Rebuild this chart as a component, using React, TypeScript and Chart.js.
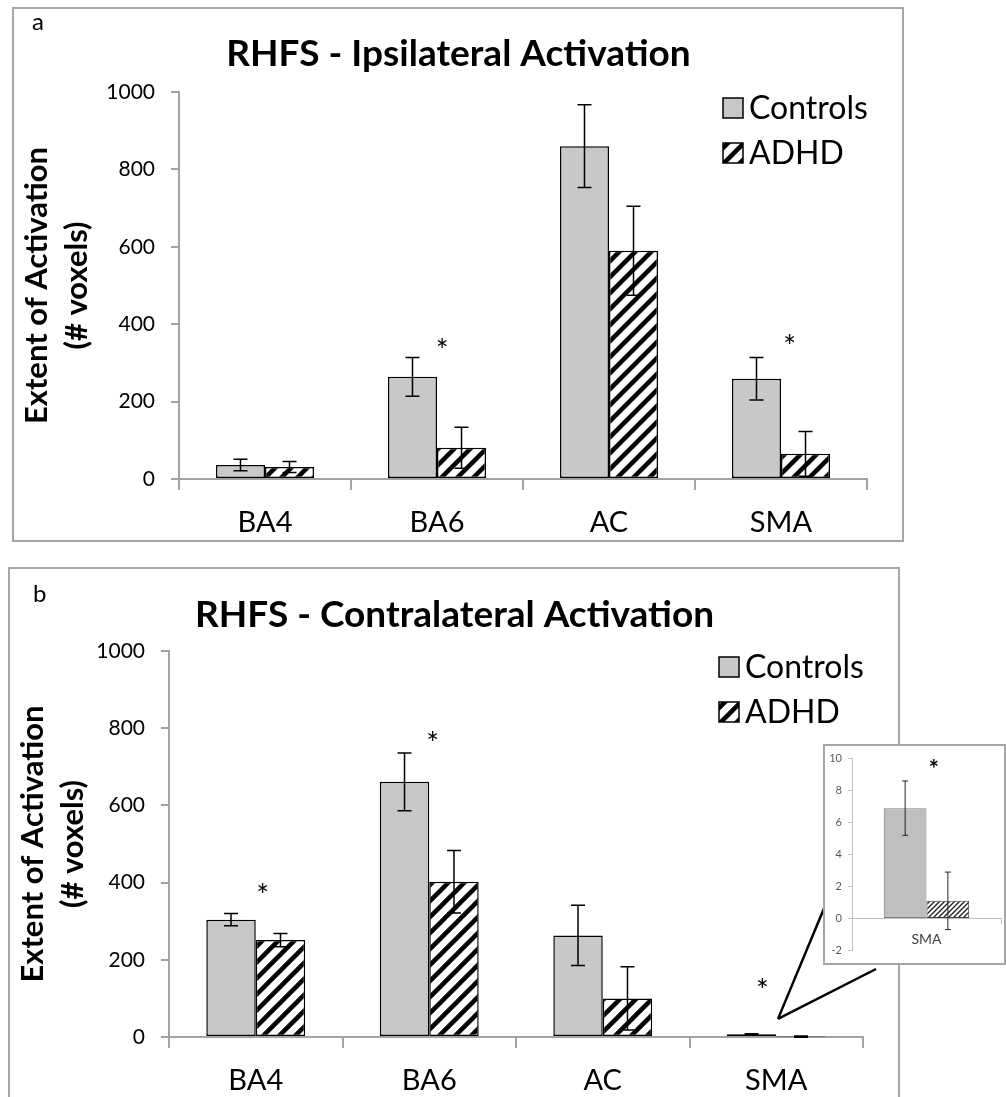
import React, { useEffect, useRef } from "react";
import { Chart, registerables } from "chart.js";

Chart.register(...registerables);

// ---------------- DATA ----------------
const categories = ["BA4", "BA6", "AC", "SMA"];
const seriesNames = ["Controls", "ADHD"];

const ipsiControls = [36, 264, 860, 259];
const ipsiControlsErr = [15, 50, 107, 55];
const ipsiAdhd = [31, 81, 590, 65];
const ipsiAdhdErr = [14, 53, 115, 58];

const contraControls = [304, 661, 263, 6.9];
const contraControlsErr = [16, 75, 78, 1.7];
const contraAdhd = [251, 402, 100, 1.1];
const contraAdhdErr = [17, 81, 82, 1.8];

const insetCategories = ["SMA"];
const insetControls = [6.9];
const insetControlsErr = [1.7];
const insetAdhd = [1.1];
const insetAdhdErr = [1.8];

const mainAxisMin = 0;
const mainAxisMax = 1000;
const mainAxisStep = 200;
const insetAxisMin = -2;
const insetAxisMax = 10;
const insetAxisStep = 2;

// significance markers: category index, small shift (category units), value
const ipsiStarIndex = [1, 3];
const ipsiStarShift = [0.03, 0.05];
const ipsiStarValue = [330, 341];
const contraStarIndex = [0, 1, 3];
const contraStarShift = [0.04, 0.02, -0.08];
const contraStarValue = [365, 759, 119];
const insetStarIndex = [0];
const insetStarShift = [0.05];
const insetStarValue = [9.3];

const calloutValue = 47;

const ipsiTitle = "RHFS - Ipsilateral Activation";
const contraTitle = "RHFS - Contralateral Activation";
const yTitle = ["Extent of Activation", "(# voxels)"];

// ---------------- STYLE ----------------
const FONT = "Lato, 'DejaVu Sans', sans-serif";
const GRAY = "#c8c8c8";
const AXIS = "#a3a3a3";
const PANEL_BORDER = "2px solid #a6a6a6";

function makeStripe(size: number, lw: number, color: string) {
  const c = document.createElement("canvas");
  c.width = size;
  c.height = size;
  const g = c.getContext("2d")!;
  g.fillStyle = "#ffffff";
  g.fillRect(0, 0, size, size);
  g.strokeStyle = color;
  g.lineWidth = lw;
  g.lineCap = "square";
  const lines = [
    [0, size, size, 0],
    [-size / 2, size / 2, size / 2, -size / 2],
    [size / 2, size * 1.5, size * 1.5, size / 2],
  ];
  for (const [a, b, cc, d] of lines) {
    g.beginPath();
    g.moveTo(a, b);
    g.lineTo(cc, d);
    g.stroke();
  }
  return g.createPattern(c, "repeat")!;
}

function errorBars(errs: number[][], capW: number, lw: number, color: string) {
  return {
    id: "errbars",
    afterDatasetsDraw(chart: any) {
      const ctx = chart.ctx;
      const ys = chart.scales.y;
      ctx.save();
      ctx.strokeStyle = color;
      ctx.lineWidth = lw;
      chart.data.datasets.forEach((ds: any, d: number) => {
        const meta = chart.getDatasetMeta(d);
        meta.data.forEach((el: any, i: number) => {
          const v = ds.data[i];
          const e = errs[d][i];
          const x = el.x;
          const yt = ys.getPixelForValue(v + e);
          const yb = ys.getPixelForValue(v - e);
          ctx.beginPath();
          ctx.moveTo(x, yt);
          ctx.lineTo(x, yb);
          ctx.moveTo(x - capW / 2, yt);
          ctx.lineTo(x + capW / 2, yt);
          ctx.moveTo(x - capW / 2, yb);
          ctx.lineTo(x + capW / 2, yb);
          ctx.stroke();
        });
      });
      ctx.restore();
    },
  };
}

function stars(idx: number[], shift: number[], vals: number[], font: string) {
  return {
    id: "stars",
    afterDatasetsDraw(chart: any) {
      const ctx = chart.ctx;
      const xs = chart.scales.x;
      const ys = chart.scales.y;
      ctx.save();
      ctx.fillStyle = "#000";
      ctx.font = font;
      ctx.textAlign = "center";
      ctx.textBaseline = "middle";
      idx.forEach((ix, k) => {
        ctx.fillText("*", xs.getPixelForValue(ix + shift[k]), ys.getPixelForValue(vals[k]));
      });
      ctx.restore();
    },
  };
}

function decor(cfg: any) {
  return {
    id: "decor",
    afterDraw(chart: any) {
      const ctx = chart.ctx;
      const area = chart.chartArea;
      ctx.save();
      // title
      ctx.fillStyle = "#000";
      ctx.font = `bold 37px ${FONT}`;
      ctx.textAlign = "center";
      ctx.textBaseline = "middle";
      ctx.fillText(cfg.title, chart.width / 2 + 1, cfg.titleY);
      // panel letter
      ctx.font = `24px ${FONT}`;
      ctx.textAlign = "left";
      ctx.textBaseline = "alphabetic";
      ctx.fillText(cfg.letter, cfg.letterX, cfg.letterY);
      // legend
      const bx = area.right - 144;
      const fills = [GRAY, cfg.pattern];
      seriesNames.forEach((name, k) => {
        const cy = area.top + 16 + k * 45;
        ctx.fillStyle = fills[k];
        ctx.fillRect(bx, cy - 10, 20, 20);
        ctx.strokeStyle = "#000";
        ctx.lineWidth = 1.5;
        ctx.strokeRect(bx, cy - 10, 20, 20);
        ctx.fillStyle = "#000";
        ctx.font = `32px ${FONT}`;
        ctx.textBaseline = "middle";
        ctx.fillText(name, bx + 26, cy + 1);
      });
      // callout lines
      if (cfg.callout) {
        const xs = chart.scales.x;
        const ys = chart.scales.y;
        const ax = xs.getPixelForValue(3 + 0.01);
        const ay = ys.getPixelForValue(calloutValue);
        ctx.strokeStyle = "#000";
        ctx.lineWidth = 2.5;
        ctx.beginPath();
        for (const [ex, ey] of cfg.callout) {
          ctx.moveTo(ax, ay);
          ctx.lineTo(ex, ey);
        }
        ctx.stroke();
      }
      ctx.restore();
    },
  };
}

function mainConfig(o: any) {
  const pattern = makeStripe(16, 4.5, "#000");
  return {
    type: "bar",
    data: {
      labels: categories,
      datasets: [
        {
          label: seriesNames[0],
          data: o.controls,
          backgroundColor: GRAY,
          borderColor: "#000",
          borderWidth: 1.5,
          borderSkipped: false,
          categoryPercentage: 0.57,
          barPercentage: 1,
        },
        {
          label: seriesNames[1],
          data: o.adhd,
          backgroundColor: pattern,
          borderColor: "#000",
          borderWidth: 1.5,
          borderSkipped: false,
          categoryPercentage: 0.57,
          barPercentage: 1,
        },
      ],
    },
    options: {
      animation: false,
      responsive: false,
      events: [],
      layout: { padding: { left: 0, right: o.padRight, top: o.padTop, bottom: 0 } },
      plugins: { legend: { display: false }, tooltip: { enabled: false }, title: { display: false } },
      scales: {
        x: {
          grid: { offset: true, drawOnChartArea: false, drawTicks: true, tickLength: 11, color: AXIS, lineWidth: 2 },
          border: { color: AXIS, width: 2 },
          ticks: { font: { family: FONT, size: 29 }, color: "#000", padding: 15, maxRotation: 0 },
          afterFit: (s: any) => {
            s.height = o.xHeight;
          },
        },
        y: {
          min: mainAxisMin,
          max: mainAxisMax,
          ticks: {
            stepSize: mainAxisStep,
            font: { family: FONT, size: 21 },
            color: "#000",
            padding: 16,
            callback: (v: any) => String(v),
          },
          grid: { drawOnChartArea: false, drawTicks: true, tickLength: 8, color: AXIS, lineWidth: 2 },
          border: { color: AXIS, width: 2 },
          title: {
            display: true,
            text: yTitle,
            color: "#000",
            font: { family: FONT, size: 31, weight: "bold", lineHeight: 1.3 },
            padding: { top: 3, bottom: 0 },
          },
          afterFit: (s: any) => {
            s.width = o.yWidth;
          },
        },
      },
    },
    plugins: [
      errorBars([o.controlsErr, o.adhdErr], 14, 1.5, "#000"),
      stars(o.starIdx, o.starShift, o.starVal, `30px ${FONT}`),
      decor({ ...o.decor, pattern }),
    ],
  };
}

function insetConfig() {
  const hatch = makeStripe(5, 1.3, "#222");
  return {
    type: "bar",
    data: {
      labels: insetCategories,
      datasets: [
        {
          label: seriesNames[0],
          data: insetControls,
          backgroundColor: "#bfbfbf",
          borderColor: "#7f7f7f",
          borderWidth: 1,
          borderSkipped: false,
          categoryPercentage: 0.573,
          barPercentage: 1,
        },
        {
          label: seriesNames[1],
          data: insetAdhd,
          backgroundColor: hatch,
          borderColor: "#404040",
          borderWidth: 1,
          borderSkipped: false,
          categoryPercentage: 0.573,
          barPercentage: 1,
        },
      ],
    },
    options: {
      animation: false,
      responsive: false,
      events: [],
      layout: { padding: { left: 0, right: 3, top: 11, bottom: 9 } },
      plugins: { legend: { display: false }, tooltip: { enabled: false } },
      scales: {
        x: {
          position: { y: 0 },
          grid: { offset: true, drawOnChartArea: false, drawTicks: true, tickLength: 5, color: "#bfbfbf", lineWidth: 1 },
          border: { color: "#bfbfbf", width: 1 },
          ticks: { font: { family: FONT, size: 14 }, color: "#404040", padding: 8, maxRotation: 0 },
        },
        y: {
          min: insetAxisMin,
          max: insetAxisMax,
          ticks: { stepSize: insetAxisStep, font: { family: FONT, size: 11 }, color: "#595959", padding: 6 },
          grid: { drawOnChartArea: false, drawTicks: true, tickLength: 4, color: "#bfbfbf", lineWidth: 1 },
          border: { color: "#bfbfbf", width: 1 },
          afterFit: (s: any) => {
            s.width = 27;
          },
        },
      },
    },
    plugins: [
      errorBars([insetControlsErr, insetAdhdErr], 6, 1, "#262626"),
      stars(insetStarIndex, insetStarShift, insetStarValue, `bold 24px ${FONT}`),
    ],
  };
}

function ChartCanvas({ width, height, build }: { width: number; height: number; build: () => any }) {
  const ref = useRef<HTMLCanvasElement | null>(null);
  useEffect(() => {
    const chart = new Chart(ref.current as HTMLCanvasElement, build());
    return () => chart.destroy();
  }, []);
  return <canvas ref={ref} width={width} height={height} style={{ display: "block", width, height }} />;
}

export default function App() {
  const top = () =>
    mainConfig({
      controls: ipsiControls,
      controlsErr: ipsiControlsErr,
      adhd: ipsiAdhd,
      adhdErr: ipsiAdhdErr,
      padRight: 34,
      padTop: 83,
      xHeight: 61,
      yWidth: 165,
      starIdx: ipsiStarIndex,
      starShift: ipsiStarShift,
      starVal: ipsiStarValue,
      decor: { title: ipsiTitle, titleY: 45, letter: "a", letterX: 18, letterY: 21 },
    });
  const bottom = () =>
    mainConfig({
      controls: contraControls,
      controlsErr: contraControlsErr,
      adhd: contraAdhd,
      adhdErr: contraAdhdErr,
      padRight: 34,
      padTop: 82,
      xHeight: 72,
      yWidth: 159,
      starIdx: contraStarIndex,
      starShift: contraStarShift,
      starVal: contraStarValue,
      decor: {
        title: contraTitle,
        titleY: 46,
        letter: "b",
        letterX: 23,
        letterY: 33,
        callout: [
          [815, 337],
          [866, 400],
        ],
      },
    });

  return (
    <div
      style={{
        position: "absolute",
        left: 0,
        top: 0,
        width: 1006,
        height: 1097,
        overflow: "hidden",
        background: "#fff",
      }}
    >
      <div
        style={{
          position: "absolute",
          left: 12,
          top: 7,
          width: 892,
          height: 535,
          border: PANEL_BORDER,
          boxSizing: "border-box",
        }}
      >
        <ChartCanvas width={887} height={531} build={top} />
      </div>
      <div
        style={{
          position: "absolute",
          left: 8,
          top: 567,
          width: 892,
          height: 560,
          border: PANEL_BORDER,
          boxSizing: "border-box",
        }}
      >
        <ChartCanvas width={887} height={540} build={bottom} />
      </div>
      <div
        style={{
          position: "absolute",
          left: 823,
          top: 744,
          width: 183,
          height: 221,
          border: PANEL_BORDER,
          boxSizing: "border-box",
          background: "#fff",
        }}
      >
        <ChartCanvas width={179} height={217} build={insetConfig} />
      </div>
    </div>
  );
}
